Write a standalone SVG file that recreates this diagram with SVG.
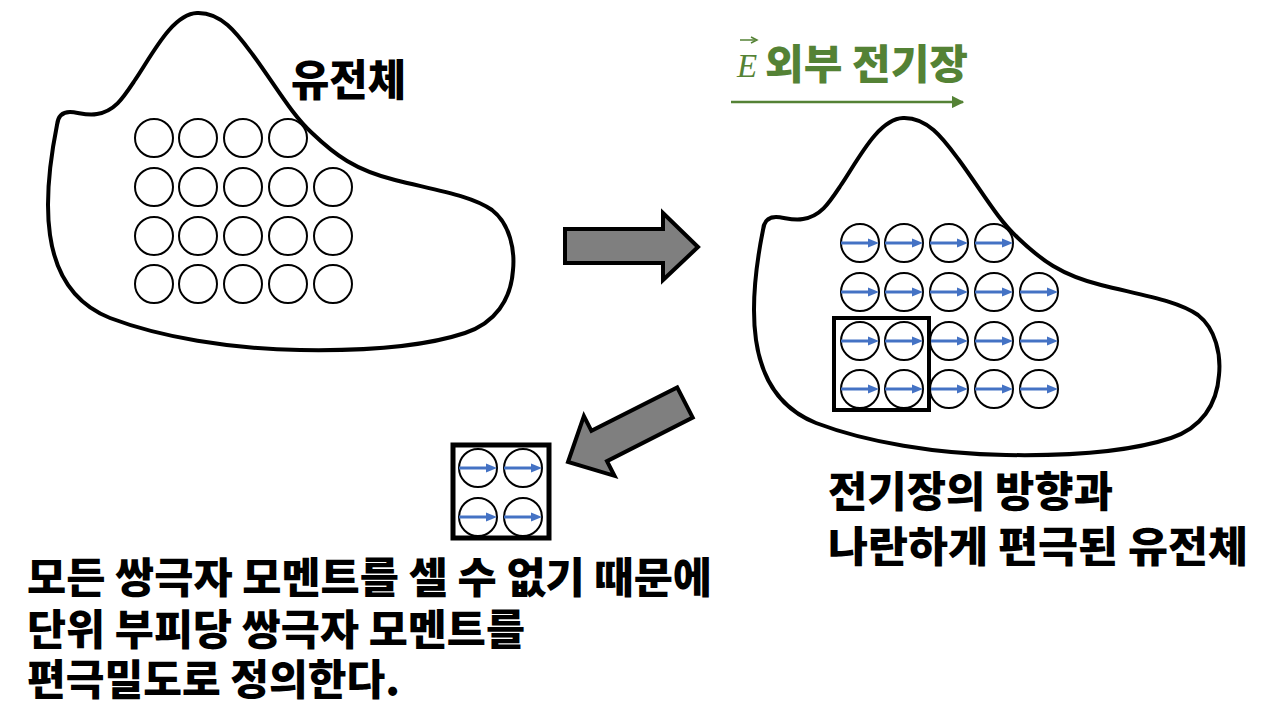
<svg xmlns="http://www.w3.org/2000/svg" width="1280" height="720" viewBox="0 0 1280 720">
<defs>
<style>
.blob{fill:none;stroke:#000;stroke-width:4;stroke-linejoin:round}
.c{fill:none;stroke:#000;stroke-width:2}
.box{fill:none;stroke:#000;stroke-width:4}
.gray{fill:#7F7F7F;stroke:#000;stroke-width:4;stroke-linejoin:miter}
.ko{font-family:"Noto Sans CJK KR","Noto Sans",sans-serif;font-weight:900;fill:#000}
.green{fill:#548235}
</style>
<marker id="gh" viewBox="0 0 10 10" refX="9" refY="5" markerWidth="5" markerHeight="5" markerUnits="strokeWidth" orient="auto">
<path d="M0,0 L10,5 L0,10 Z" fill="#548235"/>
</marker>
<g id="dp">
<path d="M-19,0 H10" stroke="#4472C4" stroke-width="3" fill="none"/>
<path d="M8,-4.5 L19,0 L8,4.5 Z" fill="#4472C4"/>
</g>
<path id="blobShape" d="M57,125 C58,115 63,112 70,112 C78,112 86,116 97,114 C115,111 123,98 135,80 C152,55 172,14 197,13 C222,12 238,35 253,55 C275,85 292,115 312,133 C335,155 355,170 395,180 C440,191 472,196 492,210 C510,224 515,250 513,270 C511,300 495,323 465,333 C420,348 360,351 300,350 C230,349 160,337 110,318 C70,302 55,270 50,235 C45,200 50,160 57,125 Z"/>
<g id="plainGrid">
<circle class="c" cx="154" cy="138" r="19"/><circle class="c" cx="198" cy="138" r="19"/><circle class="c" cx="243" cy="138" r="19"/><circle class="c" cx="288" cy="138" r="19"/>
<circle class="c" cx="154" cy="187" r="19"/><circle class="c" cx="198" cy="187" r="19"/><circle class="c" cx="243" cy="187" r="19"/><circle class="c" cx="288" cy="187" r="19"/><circle class="c" cx="333" cy="187" r="19"/>
<circle class="c" cx="154" cy="236" r="19"/><circle class="c" cx="198" cy="236" r="19"/><circle class="c" cx="243" cy="236" r="19"/><circle class="c" cx="288" cy="236" r="19"/><circle class="c" cx="333" cy="236" r="19"/>
<circle class="c" cx="154" cy="284" r="19"/><circle class="c" cx="198" cy="284" r="19"/><circle class="c" cx="243" cy="284" r="19"/><circle class="c" cx="288" cy="284" r="19"/><circle class="c" cx="333" cy="284" r="19"/>
</g>
<g id="dipArrows">
<use href="#dp" x="154" y="138"/><use href="#dp" x="198" y="138"/><use href="#dp" x="243" y="138"/><use href="#dp" x="288" y="138"/>
<use href="#dp" x="154" y="187"/><use href="#dp" x="198" y="187"/><use href="#dp" x="243" y="187"/><use href="#dp" x="288" y="187"/><use href="#dp" x="333" y="187"/>
<use href="#dp" x="154" y="236"/><use href="#dp" x="198" y="236"/><use href="#dp" x="243" y="236"/><use href="#dp" x="288" y="236"/><use href="#dp" x="333" y="236"/>
<use href="#dp" x="154" y="284"/><use href="#dp" x="198" y="284"/><use href="#dp" x="243" y="284"/><use href="#dp" x="288" y="284"/><use href="#dp" x="333" y="284"/>
</g>
</defs>

<g id="dielectric-before">
<use href="#blobShape" class="blob"/>
<use href="#plainGrid"/>
<text class="ko" x="291" y="96" font-size="43" textLength="115" lengthAdjust="spacingAndGlyphs">유전체</text>
</g>

<g id="field-label">
<text x="737" y="77" font-family="Liberation Serif, serif" font-style="italic" font-size="33" fill="#548235">E</text>
<path d="M740,40 H755" stroke="#548235" stroke-width="1.5" fill="none"/>
<path d="M751,37 L757,40 L751,43" stroke="#548235" stroke-width="1.5" fill="none"/>
<text class="ko green" x="765" y="79" font-size="41" textLength="203" lengthAdjust="spacingAndGlyphs">외부 전기장</text>
</g>

<g id="dielectric-after">
<g transform="translate(706,105)">
<use href="#blobShape" class="blob"/>
<use href="#plainGrid"/>
<use href="#dipArrows"/>
</g>
<rect class="box" x="834" y="318" width="95" height="92"/>
<text class="ko" x="828" y="507" font-size="42" textLength="285" lengthAdjust="spacingAndGlyphs">전기장의 방향과</text>
<text class="ko" x="828" y="562" font-size="42" textLength="420" lengthAdjust="spacingAndGlyphs">나란하게 편극된 유전체</text>
</g>

<g id="unit-volume">
<rect x="453" y="445" width="96" height="93" fill="none" stroke="#000" stroke-width="5"/>
<circle class="c" cx="478" cy="468" r="19"/><circle class="c" cx="523" cy="468" r="19"/>
<circle class="c" cx="478" cy="517" r="19"/><circle class="c" cx="523" cy="517" r="19"/>
<use href="#dp" x="478" y="468"/><use href="#dp" x="523" y="468"/>
<use href="#dp" x="478" y="517"/><use href="#dp" x="523" y="517"/>
</g>

<g id="bottom-text">
<text class="ko" x="27" y="593" font-size="42" textLength="685" lengthAdjust="spacingAndGlyphs">모든 쌍극자 모멘트를 셀 수 없기 때문에</text>
<text class="ko" x="27" y="645" font-size="42" textLength="498" lengthAdjust="spacingAndGlyphs">단위 부피당 쌍극자 모멘트를</text>
<text class="ko" x="27" y="695" font-size="42" textLength="373" lengthAdjust="spacingAndGlyphs">편극밀도로 정의한다.</text>
</g>

<g id="connectors">
<path d="M731,102 H963" stroke="#548235" stroke-width="2.5" fill="none" marker-end="url(#gh)"/>
<polygon class="gray" points="565,229 663,229 663,213 698,247 663,280 663,263 565,263"/>
<polygon class="gray" points="568,462 583.9,416.2 591.4,430.9 677.2,387.4 692.7,417.6 607,461.1 614.5,475.8"/>
</g>
</svg>
